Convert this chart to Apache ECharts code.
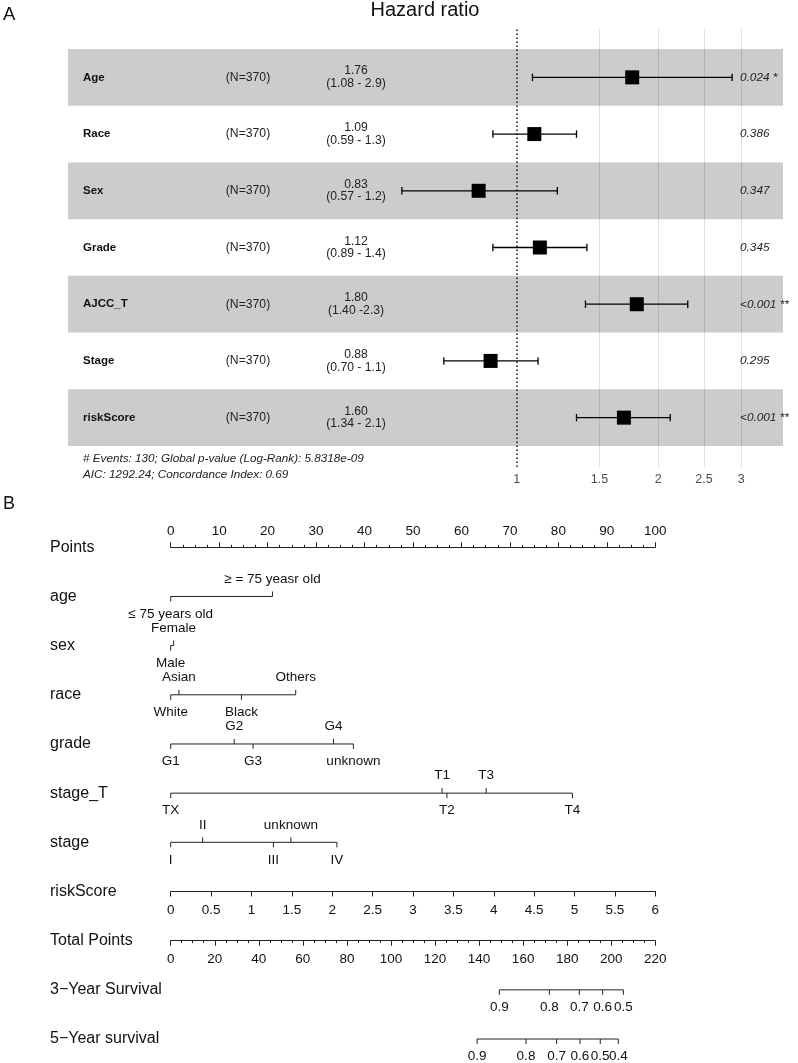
<!DOCTYPE html>
<html><head><meta charset="utf-8">
<script src="https://cdn.jsdelivr.net/npm/echarts@6/dist/echarts.min.js"></script>
<style>html,body{margin:0;padding:0;background:#fff}#c{width:798px;height:1063px}</style>
</head><body><div id="c"></div>
<script>
// ---------- Panel A: forest plot ----------
const variables = ['Age', 'Race', 'Sex', 'Grade', 'AJCC_T', 'Stage', 'riskScore'];
const nText = ['(N=370)', '(N=370)', '(N=370)', '(N=370)', '(N=370)', '(N=370)', '(N=370)'];
const hrText = ['1.76', '1.09', '0.83', '1.12', '1.80', '0.88', '1.60'];
const ciText = ['(1.08 - 2.9)', '(0.59 - 1.3)', '(0.57 - 1.2)', '(0.89 - 1.4)', '(1.40 -2.3)', '(0.70 - 1.1)', '(1.34 - 2.1)'];
const hrValue = [1.76, 1.09, 0.83, 1.12, 1.80, 0.88, 1.69];
const ciLower = [1.08, 0.89, 0.57, 0.89, 1.40, 0.70, 1.34];
const ciUpper = [2.87, 1.34, 1.22, 1.41, 2.31, 1.11, 2.12];
const pText = ['0.024', '0.386', '0.347', '0.345', '<0.001', '0.295', '<0.001'];
const pStars = ['*', '', '', '', '**', '', '**'];
const hrTicks = [1, 1.5, 2, 2.5, 3];
const footLine1 = '# Events: 130; Global p-value (Log-Rank): 5.8318e-09';
const footLine2 = 'AIC: 1292.24; Concordance Index: 0.69';

// ---------- Panel B: nomogram ----------
const rowNames = ['Points', 'age', 'sex', 'race', 'grade', 'stage_T', 'stage', 'riskScore', 'Total Points', '3\u2212Year Survival', '5\u2212Year survival'];
const ageLabels = ['\u2264 75 years old', '\u2265 = 75 yeasr old'];
const agePts = [0, 21];
const sexLabels = ['Male', 'Female'];
const sexPts = [0, 0.6];
const raceLabels = ['White', 'Asian', 'Black', 'Others'];
const racePts = [0, 1.7, 14.6, 25.8];
const gradeLabels = ['G1', 'G2', 'G3', 'G4', 'unknown'];
const gradePts = [0, 13.1, 17.0, 33.6, 37.7];
const stageTLabels = ['TX', 'T1', 'T2', 'T3', 'T4'];
const stageTPts = [0, 56.0, 57.0, 65.1, 82.9];
const stageLabels = ['I', 'II', 'III', 'unknown', 'IV'];
const stagePts = [0, 6.6, 21.2, 24.8, 34.3];
const surv3Labels = ['0.9', '0.8', '0.7', '0.6', '0.5'];
const surv3Total = [149.2, 171.9, 185.5, 196.1, 205.5];
const surv5Labels = ['0.9', '0.8', '0.7', '0.6', '0.5', '0.4'];
const surv5Total = [139.1, 161.3, 175.2, 185.8, 195.0, 203.2];
const pointsRange = [0, 100], pointsStep = 10;
const riskRange = [0, 6], riskStep = 0.5;
const totalRange = [0, 220], totalStep = 20;

// ---------- layout / style ----------
const FF = "'Liberation Sans', Arial, Helvetica, sans-serif";
const LOG_MIN = 0.1112, LOG_MAX = 3.682;
const BAND = '#cccccc';
const chart = echarts.init(document.getElementById('c'), null, {renderer: 'canvas', width: 798, height: 1063});

function catAxisA(extra) {
  return Object.assign({
    type: 'category', gridIndex: 0, data: variables, inverse: true,
    axisLine: {show: false}, axisTick: {show: false}, splitLine: {show: false}
  }, extra);
}
const B_STEP = (1039 - 547.3) / (rowNames.length - 1);

function nomoRow(name, labels, pts, alternate, xAxisIndex) {
  const rowIdx = rowNames.indexOf(name);
  return {
    type: 'custom', xAxisIndex: xAxisIndex, yAxisIndex: 5, silent: true, z: 3,
    data: [[pts[0], rowIdx]], encode: {x: 0, y: 1},
    renderItem: function (params, api) {
      const y = api.coord([pts[0], rowIdx])[1];
      const xs = pts.map(p => api.coord([p, rowIdx])[0]);
      const st = {stroke: '#222', lineWidth: 1};
      const ch = [{type: 'line', shape: {x1: Math.min.apply(null, xs), y1: y, x2: Math.max.apply(null, xs), y2: y}, style: st}];
      const order = pts.map((p, i) => i).sort((a, b) => pts[a] - pts[b]);
      order.forEach((idx, k) => {
        const d = (alternate && k % 2 === 1) ? -1 : 1;
        ch.push({type: 'line', shape: {x1: xs[idx], y1: y, x2: xs[idx], y2: y + d * 5}, style: st});
        ch.push({type: 'text', style: {text: labels[idx], x: xs[idx], y: y + d * 17.5,
          align: 'center', verticalAlign: 'middle', textAlign: 'center', textVerticalAlign: 'middle',
          font: '13.5px ' + FF, fill: '#111'}});
      });
      return {type: 'group', children: ch};
    }
  };
}
function nomoAxis(extra) {
  return Object.assign({
    type: 'value', gridIndex: 2,
    axisLine: {show: true, onZero: false, lineStyle: {color: '#222', width: 1}},
    axisTick: {show: true, length: 5, lineStyle: {color: '#222', width: 1}},
    splitLine: {show: false}, minorSplitLine: {show: false}
  }, extra);
}

const option = {
  animation: false,
  backgroundColor: '#fff',
  textStyle: {fontFamily: FF},
  grid: [
    {left: 68, right: 15, top: 49, height: 397, containLabel: false, outerBoundsMode: 'none'},
    {left: 68, right: 15, top: 29, height: 438, containLabel: false, outerBoundsMode: 'none'},
    {left: 170.7, right: 142.7, top: 547.3, bottom: 24, containLabel: false, outerBoundsMode: 'none'}
  ],
  xAxis: [
    {type: 'log', gridIndex: 0, min: LOG_MIN, max: LOG_MAX, show: false},
    {type: 'value', gridIndex: 0, min: 0, max: 1, show: false},
    {type: 'log', gridIndex: 1, min: LOG_MIN, max: LOG_MAX, show: false},
    nomoAxis({position: 'top', min: pointsRange[0], max: pointsRange[1], interval: pointsStep,
      minorTick: {show: true, splitNumber: 4, length: 2.5, lineStyle: {color: '#222', width: 1}},
      axisLabel: {margin: 9, fontSize: 13.5, color: '#111', fontFamily: FF}}),
    nomoAxis({position: 'bottom', offset: -(rowNames.length - 1 - rowNames.indexOf('riskScore')) * B_STEP,
      min: riskRange[0], max: riskRange[1], interval: riskStep,
      axisLabel: {margin: 11.5, fontSize: 13.5, color: '#111', fontFamily: FF}}),
    nomoAxis({position: 'bottom', offset: -(rowNames.length - 1 - rowNames.indexOf('Total Points')) * B_STEP,
      min: totalRange[0], max: totalRange[1], interval: totalStep,
      minorTick: {show: true, splitNumber: 4, length: 2.5, lineStyle: {color: '#222', width: 1}},
      axisLabel: {margin: 11.5, fontSize: 13.5, color: '#111', fontFamily: FF}})
  ],
  yAxis: [
    catAxisA({position: 'left', axisLabel: {inside: true, interval: 0, margin: 15, align: 'left', fontFamily: FF, fontSize: 11.5, fontWeight: 'bold', color: '#111'}}),
    catAxisA({position: 'left', offset: -180, axisLabel: {inside: true, interval: 0, margin: 0, align: 'center', fontFamily: FF, fontSize: 12.2, color: '#222', formatter: (v, i) => nText[i]}}),
    catAxisA({position: 'left', offset: -288, axisLabel: {inside: true, interval: 0, margin: 0, align: 'center', fontFamily: FF, fontSize: 12.2, lineHeight: 12.5, color: '#222', formatter: (v, i) => hrText[i] + '\n' + ciText[i]}}),
    catAxisA({position: 'left', offset: -672, axisLabel: {inside: true, interval: 0, margin: 0, align: 'left', fontFamily: FF, fontSize: 11.8, fontStyle: 'italic', color: '#222', formatter: (v, i) => pText[i] + (pStars[i] ? ' ' + pStars[i] : '')}}),
    {type: 'value', gridIndex: 1, min: 0, max: 1, show: false},
    {type: 'category', gridIndex: 2, data: rowNames, inverse: true, boundaryGap: false,
      axisLine: {show: false}, axisTick: {show: false}, splitLine: {show: false},
      axisLabel: {interval: 0, margin: 120.7, align: 'left', fontSize: 16, color: '#111', fontFamily: FF}}
  ],
  graphic: [
    {type: 'text', x: 3, y: 15, style: {text: 'A', font: '18.5px ' + FF, fill: '#111', align: 'left', verticalAlign: 'middle', textAlign: 'left', textVerticalAlign: 'middle'}},
    {type: 'text', x: 425, y: 10, style: {text: 'Hazard ratio', font: '20px ' + FF, fill: '#111', align: 'center', verticalAlign: 'middle', textAlign: 'center', textVerticalAlign: 'middle'}},
    {type: 'text', x: 83, y: 459, style: {text: footLine1, font: 'italic 11.7px ' + FF, fill: '#222', align: 'left', verticalAlign: 'middle', textAlign: 'left', textVerticalAlign: 'middle'}},
    {type: 'text', x: 83, y: 475, style: {text: footLine2, font: 'italic 11.7px ' + FF, fill: '#222', align: 'left', verticalAlign: 'middle', textAlign: 'left', textVerticalAlign: 'middle'}},
    {type: 'text', x: 3, y: 504, style: {text: 'B', font: '18px ' + FF, fill: '#111', align: 'left', verticalAlign: 'middle', textAlign: 'left', textVerticalAlign: 'middle'}}
  ],
  series: [
    {type: 'bar', xAxisIndex: 1, yAxisIndex: 0, data: variables.map(() => 1), barWidth: '100%', z: 0, silent: true,
      itemStyle: {color: p => (p.dataIndex % 2 === 0 ? BAND : 'rgba(0,0,0,0)')}},
    {type: 'scatter', xAxisIndex: 2, yAxisIndex: 4, data: hrTicks.map(v => [v, 0]), symbolSize: 0, silent: true, z: 1,
      markLine: {silent: true, symbol: ['none', 'none'], animation: false,
        label: {show: true, position: 'start', distance: 6, formatter: p => String(p.value), color: '#4d4d4d', fontSize: 12.5, fontFamily: FF},
        data: hrTicks.map(v => ({xAxis: v, lineStyle: v === 1 ? {color: '#111', type: [1.5, 2.5], width: 1.5} : {color: 'rgba(0,0,0,0.12)', type: 'solid', width: 1}}))}},
    {type: 'custom', xAxisIndex: 0, yAxisIndex: 0, silent: true, z: 3,
      data: variables.map((v, i) => [ciLower[i], ciUpper[i], i]), encode: {x: [0, 1], y: 2},
      renderItem: function (params, api) {
        const yi = api.value(2);
        const p1 = api.coord([api.value(0), yi]);
        const p2 = api.coord([api.value(1), yi]);
        const h = 3.7, st = {stroke: '#000', lineWidth: 1.3};
        return {type: 'group', children: [
          {type: 'line', shape: {x1: p1[0], y1: p1[1], x2: p2[0], y2: p2[1]}, style: st},
          {type: 'line', shape: {x1: p1[0], y1: p1[1] - h, x2: p1[0], y2: p1[1] + h}, style: st},
          {type: 'line', shape: {x1: p2[0], y1: p2[1] - h, x2: p2[0], y2: p2[1] + h}, style: st}
        ]};
      }},
    {type: 'scatter', xAxisIndex: 0, yAxisIndex: 0, z: 4, silent: true, symbol: 'rect', symbolSize: 14,
      itemStyle: {color: '#000', opacity: 1}, data: variables.map((v, i) => [hrValue[i], i])},
    nomoRow('age', ageLabels, agePts, true, 3),
    nomoRow('sex', sexLabels, sexPts, true, 3),
    nomoRow('race', raceLabels, racePts, true, 3),
    nomoRow('grade', gradeLabels, gradePts, true, 3),
    nomoRow('stage_T', stageTLabels, stageTPts, true, 3),
    nomoRow('stage', stageLabels, stagePts, true, 3),
    nomoRow('3\u2212Year Survival', surv3Labels, surv3Total, false, 5),
    nomoRow('5\u2212Year survival', surv5Labels, surv5Total, false, 5)
  ]
};
chart.setOption(option);
</script></body></html>
